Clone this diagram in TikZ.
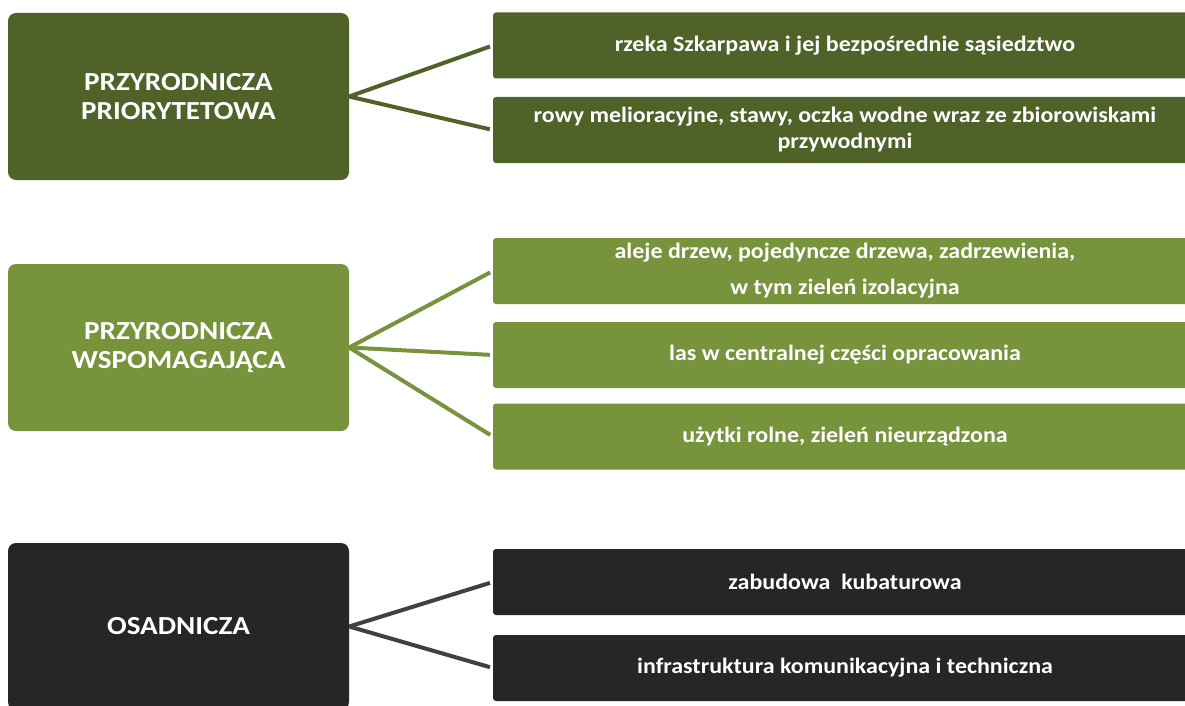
\documentclass[tikz,border=0pt]{standalone}
\usepackage{fontspec}
\setmainfont{Carlito}
\newfontfamily\duzyfont[FakeStretch=1.12]{Carlito}
\newfontfamily\malyfont[FakeStretch=1.09]{Carlito}
\definecolor{oliwka}{HTML}{4F6228}
\definecolor{ziel}{HTML}{77933C}
\definecolor{grafit}{HTML}{262626}
\definecolor{szary}{HTML}{404040}
\tikzset{
	strefa/.style={fill=#1,rounded corners=8,minimum width=341pt,minimum height=167pt,inner sep=0,text=white,align=center,font=\duzyfont\bfseries\fontsize{26}{29.5}\selectfont},
	opis/.style={fill=#1,rounded corners=3,minimum width=704pt,minimum height=66pt,inner sep=0,text=white,align=center,font=\malyfont\bfseries\fontsize{22}{26}\selectfont},
	lacz/.style={draw=#1,line width=4,shorten >=3}
}
\begin{document}
\begin{tikzpicture}[x=1pt,y=-1pt,line cap=butt, line join=miter]
			\clip (0,0) rectangle (1185,706);
			\fill[white] (0,0) rectangle (1185,706);
			\node[strefa=oliwka] (p) at (178.5,96.5) {PRZYRODNICZA\\PRIORYTETOWA};
			\node[opis=oliwka] (p1) at (845,45.5) {rzeka Szkarpawa i jej bezpośrednie sąsiedztwo};
			\node[opis=oliwka] (p2) at (845,130) {rowy melioracyjne, stawy, oczka wodne wraz ze zbiorowiskami\\przywodnymi};
			\node[strefa=ziel] (w) at (178.5,347.5) {PRZYRODNICZA\\WSPOMAGAJĄCA};
			\node[opis=ziel] (w1) at (845,271) {aleje drzew, pojedyncze drzewa, zadrzewienia,\\[10pt]w tym zieleń izolacyjna};
			\node[opis=ziel] (w2) at (845,355) {las w centralnej części opracowania};
			\node[opis=ziel] (w3) at (845,436.5) {użytki rolne, zieleń nieurządzona};
			\node[strefa=grafit] (o) at (178.5,626.5) {OSADNICZA};
			\node[opis=grafit] (o1) at (845,582) {zabudowa~ kubaturowa};
			\node[opis=grafit] (o2) at (845,668) {infrastruktura komunikacyjna i techniczna};
			\draw[lacz=oliwka] (p.east) -- (p1.west);
			\draw[lacz=oliwka] (p.east) -- (p2.west);
			\draw[lacz=ziel] (w.east) -- (w1.west);
			\draw[lacz=ziel] (w.east) -- (w2.west);
			\draw[lacz=ziel] (w.east) -- (w3.west);
			\draw[lacz=szary] (o.east) -- (o1.west);
			\draw[lacz=szary] (o.east) -- (o2.west);
		\end{tikzpicture}
\end{document}
